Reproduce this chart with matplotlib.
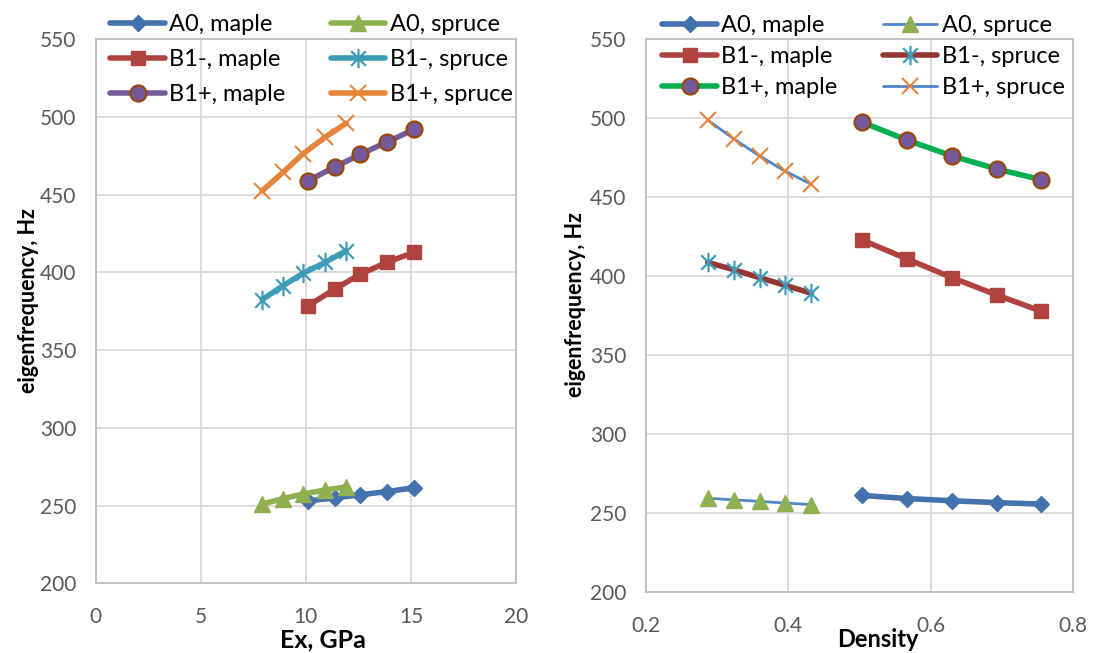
import numpy as np
import matplotlib.pyplot as plt
from matplotlib.path import Path

plt.rcParams['font.family'] = ['Lato', 'DejaVu Sans']

# Young's modulus (GPa) and density for the wood samples
ex_spruce = [7.92, 8.92, 9.88, 10.92, 11.92]
ex_maple = [10.1, 11.4, 12.6, 13.87, 15.15]
rho_spruce = [0.287, 0.324, 0.360, 0.395, 0.432]
rho_maple = [0.503, 0.567, 0.630, 0.693, 0.755]

# eigenfrequencies vs Ex
a0_maple_e = [253, 255, 257, 259, 261.5]
a0_spruce_e = [251, 254.5, 257.5, 260, 262]
b1m_maple_e = [378.5, 389.5, 399, 406.5, 413]
b1m_spruce_e = [382.5, 391.5, 399.5, 406.5, 414]
b1p_maple_e = [459, 468, 476, 484, 492]
b1p_spruce_e = [452.5, 464.5, 476.5, 487, 496]

# eigenfrequencies vs density
a0_maple_d = [261.3, 259.3, 257.9, 256.7, 255.8]
a0_spruce_d = [259.5, 258.5, 257.5, 256.5, 255.5]
b1m_maple_d = [423, 410.8, 399, 388, 377.8]
b1m_spruce_d = [408.7, 404, 399, 394.3, 389.2]
b1p_maple_d = [497.5, 486, 476, 467.7, 461]
b1p_spruce_d = [498.7, 486.7, 476, 466.5, 458.2]

labels = ['A0, maple', 'A0, spruce', 'B1-, maple', 'B1-, spruce', 'B1+, maple', 'B1+, spruce']

blue = '#4472AE'
red = '#B0433F'
green = '#8FB050'
purple = '#745A9C'
aqua = '#3F9CB6'
orange = '#E6843A'
brown = '#984807'

star = Path([(0, -1), (0, 1), (-0.75, -0.75), (0.75, 0.75), (-0.75, 0.75), (0.75, -0.75)],
            [Path.MOVETO, Path.LINETO] * 3)

fig = plt.figure(figsize=(10.93, 6.53), dpi=100)
W, H = 1093, 653
ax1 = fig.add_axes([95.7 / W, 1 - 583.3 / H, (516 - 95.7) / W, (583.3 - 39.3) / H])
ax2 = fig.add_axes([645.7 / W, 1 - 592.3 / H, (1073.3 - 645.7) / W, (592.3 - 39) / H])

# left panel: frequency vs Ex
s1 = [
    dict(x=ex_maple, y=a0_maple_e, color=blue, lw=4, marker='D', ms=8.5, mfc=blue, mec=blue),
    dict(x=ex_spruce, y=a0_spruce_e, color=green, lw=4, marker='^', ms=11, mfc=green, mec=green),
    dict(x=ex_maple, y=b1m_maple_e, color=red, lw=4, marker='s', ms=10.5, mfc=red, mec=red),
    dict(x=ex_spruce, y=b1m_spruce_e, color=aqua, lw=4, marker=star, ms=14, mfc='none', mec=aqua, mew=1.6),
    dict(x=ex_maple, y=b1p_maple_e, color=purple, lw=4, marker='o', ms=11.5, mfc=purple, mec=brown, mew=1.6),
    dict(x=ex_spruce, y=b1p_spruce_e, color=orange, lw=4, marker='x', ms=11.5, mfc='none', mec=orange, mew=1.5),
]

# right panel: frequency vs density
s2 = [
    dict(x=rho_maple, y=a0_maple_d, color=blue, lw=4, marker='D', ms=8.5, mfc=blue, mec=blue),
    dict(x=rho_spruce, y=a0_spruce_d, color='#4F86C6', lw=2, marker='^', ms=11, mfc=green, mec=green),
    dict(x=rho_maple, y=b1m_maple_d, color=red, lw=4, marker='s', ms=10.5, mfc=red, mec=red),
    dict(x=rho_spruce, y=b1m_spruce_d, color='#943634', lw=4, marker=star, ms=14, mfc='none', mec=aqua, mew=1.6),
    dict(x=rho_maple, y=b1p_maple_d, color='#00B050', lw=4, marker='o', ms=11.5, mfc=purple, mec=brown, mew=1.6),
    dict(x=rho_spruce, y=b1p_spruce_d, color='#4F86C6', lw=2, marker='x', ms=11.5, mfc='none', mec=orange, mew=1.5),
]

handles1, handles2 = [], []
for s, lab in zip(s1, labels):
    h, = ax1.plot(s['x'], s['y'], color=s['color'], lw=s['lw'], marker=s['marker'], ms=s['ms'],
                  mfc=s['mfc'], mec=s['mec'], mew=s.get('mew', 1), label=lab, solid_capstyle='round')
    handles1.append(h)
for s, lab in zip(s2, labels):
    h, = ax2.plot(s['x'], s['y'], color=s['color'], lw=s['lw'], marker=s['marker'], ms=s['ms'],
                  mfc=s['mfc'], mec=s['mec'], mew=s.get('mew', 1), label=lab, solid_capstyle='round')
    handles2.append(h)

for ax in (ax1, ax2):
    ax.set_ylim(200, 550)
    ax.set_yticks(np.arange(200, 551, 50))
    ax.grid(True, color='#D9D9D9', lw=1.3)
    ax.set_axisbelow(True)
    for sp in ax.spines.values():
        sp.set_color('#BFBFBF')
        sp.set_linewidth(1.3)
    ax.tick_params(length=0, labelsize=15, labelcolor='#595959')
    ax.tick_params(axis='y', pad=14)
    ax.tick_params(axis='x', pad=17)
    ax.set_ylabel('eigenfrequency, Hz', fontsize=15.5, fontweight='bold')
    ax.yaxis.label.set_va('center')
    ax.xaxis.label.set_va('center')

ax1.set_xlim(0, 20)
ax1.set_xticks([0, 5, 10, 15, 20])
ax1.set_xlabel('Ex, GPa', fontsize=18, fontweight='bold')
ax2.set_xlim(0.2, 0.8)
ax2.set_xticks([0.2, 0.4, 0.6, 0.8])
ax2.set_xlabel('Density', fontsize=17, fontweight='bold')

ax1.yaxis.set_label_coords(-0.161, 0.52)
ax2.yaxis.set_label_coords(-0.165, 0.52)
ax1.xaxis.set_label_coords(0.541, -0.104)
ax2.xaxis.set_label_coords(0.543, -0.086)

# legends overlap the top of each panel, no frame
leg_order = [0, 2, 4, 1, 3, 5]
fig.legend([handles1[i] for i in leg_order], [labels[i] for i in leg_order], ncol=2,
           loc='upper left', bbox_to_anchor=(101 / W, 1 - 5 / H), frameon=False, fontsize=17,
           handlelength=2.3, handletextpad=0.2, columnspacing=1.9, labelspacing=0.59,
           borderaxespad=0)
fig.legend([handles2[i] for i in leg_order], [labels[i] for i in leg_order], ncol=2,
           loc='upper left', bbox_to_anchor=(653 / W, 1 - 6 / H), frameon=False, fontsize=17,
           handlelength=2.3, handletextpad=0.2, columnspacing=1.9, labelspacing=0.41,
           borderaxespad=0)

fig.savefig('out.png', dpi=100)
